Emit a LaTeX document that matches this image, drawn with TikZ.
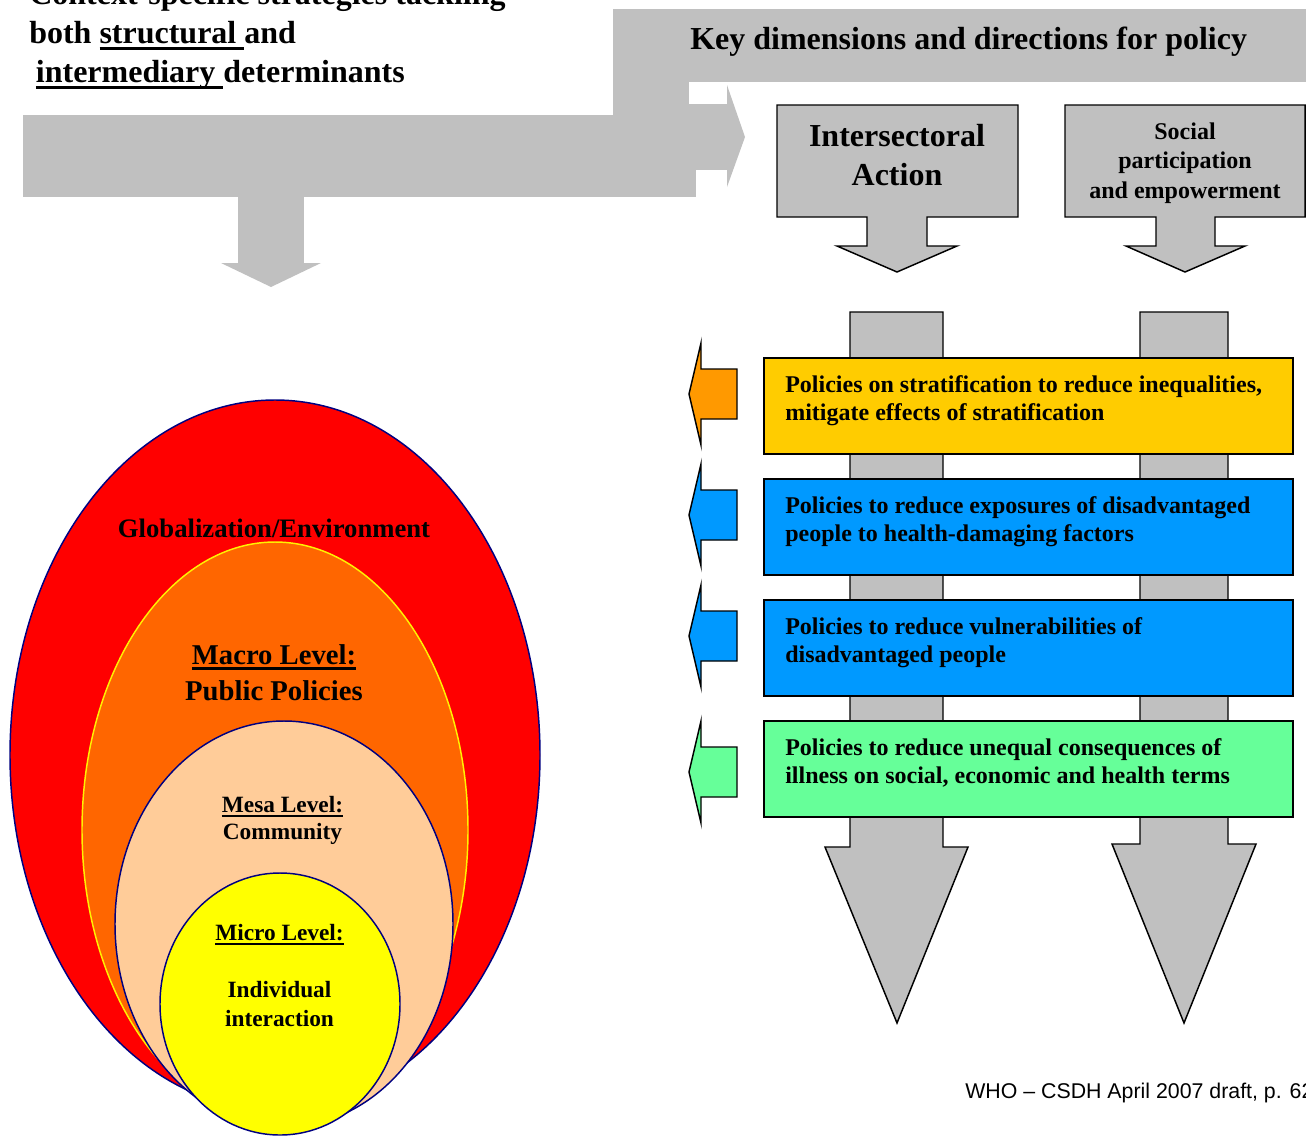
\documentclass[tikz,border=0pt]{standalone}
\usepackage{fontspec}
\setmainfont{Liberation Serif}
\newfontfamily\arialfont{Liberation Sans}
\usetikzlibrary{positioning}

\definecolor{flowgray}{HTML}{C0C0C0}
\definecolor{stratgold}{HTML}{FFCC00}
\definecolor{stratorange}{HTML}{FF9900}
\definecolor{expoblue}{HTML}{0099FF}
\definecolor{illgreen}{HTML}{66FF99}
\definecolor{globred}{HTML}{FF0000}
\definecolor{macroorange}{HTML}{FF6600}
\definecolor{mesapeach}{HTML}{FFCC99}
\definecolor{microyellow}{HTML}{FFFF00}
\definecolor{levelnavy}{HTML}{000080}

\newsavebox\undlbox
\newcommand{\undl}[1]{\sbox\undlbox{#1}\rlap{\rule[-0.2em]{\wd\undlbox}{0.09em}}\usebox\undlbox}

\begin{document}
\begin{tikzpicture}[x=0.75pt,y=-0.75pt,
  flow/.style={fill=flowgray},
  callout/.style={fill=flowgray,draw=black,line width=1.1pt,line join=miter},
  policy/.style={draw=black,line width=1.5pt},
  side/.style={draw=black,line width=1.1pt},
  level/.style={draw=levelnavy,line width=1.1pt},
  ptext/.style={anchor=north west,align=left,inner sep=0pt,font=\bfseries\fontsize{18}{21.2}\selectfont},
  lvltext/.style={align=center,inner sep=0pt}]
\useasboundingbox (0,0) rectangle (1306,1135);

% strategies arrow
\fill[flow] (23,115) rectangle (696,197);
\fill[flow] (613,9) rectangle (1306,82);
\fill[flow] (613,9) rectangle (689,115);
\fill[flow] (689,104) rectangle (727,170);
\fill[flow] (727,85) -- (745,137) -- (727,187) -- cycle;
\fill[flow] (238,196) rectangle (304,263);
\fill[flow] (221,263) -- (321,263) -- (271,287) -- cycle;

\node[anchor=north west,align=left,inner sep=0pt,font=\bfseries\fontsize{24}{29}\selectfont] (context) at (29,-18)
  {Context-specific strategies tackling\\both \undl{structural }and\\\hspace*{5pt}\undl{intermediary }determinants};
\node[anchor=base west,inner sep=0pt,font=\bfseries\fontsize{24}{29}\selectfont] (keydim) at (690,49)
  {Key dimensions and directions for policy};

% dimensions
\draw[callout] (777,105) -- (1018,105) -- (1018,217) -- (927,217) -- (927,246) -- (957,246) -- (897,272)
  -- (837,246) -- (867,246) -- (867,217) -- (777,217) -- cycle;
\node[align=center,font=\bfseries\fontsize{24}{29}\selectfont] (intersect) at (897,155) {Intersectoral\\Action};
\draw[callout] (1065,105) -- (1305,105) -- (1305,217) -- (1215,217) -- (1215,246) -- (1245,246) -- (1185,272)
  -- (1126,246) -- (1156,246) -- (1156,217) -- (1065,217) -- cycle;
\node[align=center,font=\bfseries\fontsize{18}{22}\selectfont] (social) at (1185,163) {Social\\participation\\and empowerment};

\draw[callout] (850,312) -- (943,312) -- (943,847) -- (968,847) -- (897,1023) -- (825,847) -- (850,847) -- cycle;
\draw[callout] (1140,312) -- (1228,312) -- (1228,844) -- (1256,844) -- (1184,1023) -- (1112,844) -- (1140,844) -- cycle;

% policies
\foreach \y/\c/\fc/\ac/\txt [count=\i] in {
  358/394/stratgold/stratorange/{Policies on stratification to reduce inequalities,\\mitigate effects of stratification},
  479/515/expoblue/expoblue/{Policies to reduce exposures of disadvantaged\\people to health-damaging factors},
  600/636/expoblue/expoblue/{Policies to reduce vulnerabilities of\\disadvantaged people},
  721/772/illgreen/illgreen/{Policies to reduce unequal consequences of\\illness on social, economic and health terms}}{
  \draw[policy,fill=\fc] (764,\y) rectangle (1293,\y+96);
  \node[ptext] (pol\i) at (785,\y+17) {\txt};
  \draw[side,fill=\ac] (701,\c-51) -- (689,\c) -- (701,\c+51) -- (701,\c+25) -- (737,\c+25)
    -- (737,\c-25) -- (701,\c-25) -- cycle;
}

% levels
\draw[level,fill=globred] (275,755) ellipse [x radius=265,y radius=355];
\draw[draw=yellow,line width=1.1pt,fill=macroorange] (275,830) ellipse [x radius=193,y radius=288];
\draw[level,fill=mesapeach] (284,924) ellipse [x radius=169,y radius=203];
\draw[level,fill=microyellow] (280,1004) ellipse [x radius=120,y radius=131];

\node[anchor=base,inner sep=0pt,font=\bfseries\fontsize{20}{24}\selectfont] (glob) at (274,537) {Globalization/Environment};
\node[lvltext,font=\bfseries\fontsize{21.5}{27}\selectfont] (macro) at (274,672.5) {\undl{Macro Level:}\\Public Policies};
\node[lvltext,font=\bfseries\fontsize{17.5}{20.25}\selectfont] (mesa) at (282.5,820) {\undl{Mesa Level:}\\Community};
\node[lvltext,font=\bfseries\fontsize{17.5}{21.4}\selectfont] (micro) at (279.5,975.5)
  {\undl{Micro Level:}\\[21.4pt]Individual\\interaction};

\node[anchor=base west,inner sep=0pt,font=\arialfont\fontsize{16}{19}\selectfont] (source) at (965,1098)
  {WHO – CSDH April 2007 draft, p. 62};
\end{tikzpicture}
\end{document}
